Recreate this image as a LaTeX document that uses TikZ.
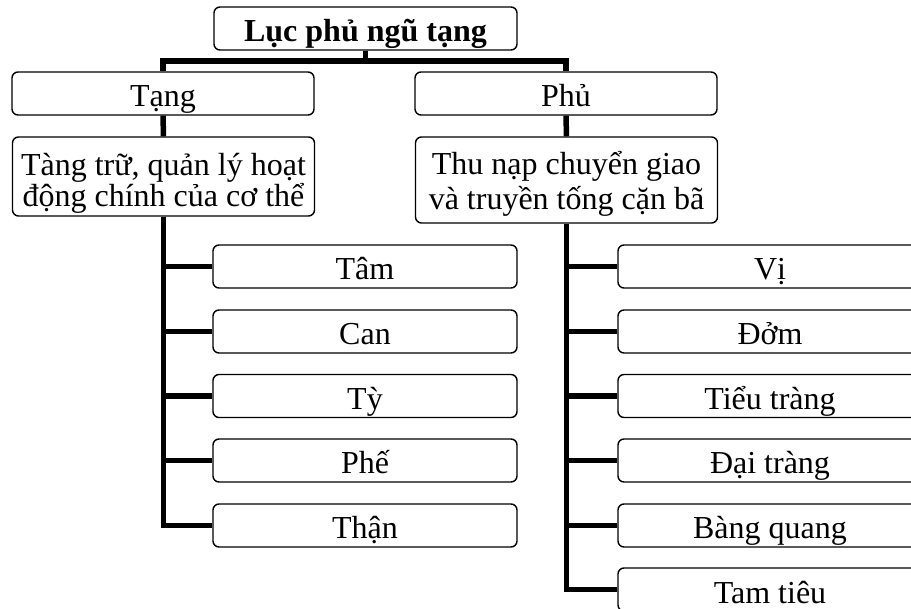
\documentclass[tikz,border=0pt]{standalone}
\usepackage{fontspec}
\setmainfont{Liberation Serif}
\begin{document}
\begin{tikzpicture}[x=1pt,y=-1pt,
  box/.style={draw, line width=1.4pt, rounded corners=6pt, inner sep=0pt,
    minimum height=43pt, text height=32pt, text depth=5pt,
    font=\fontsize{32}{35}\selectfont},
  w302/.style={minimum width=302pt},
  w304/.style={minimum width=304pt},
  conn/.style={line width=5.5pt}]
\useasboundingbox (0,0) rectangle (911,609);
\clip (0,0) rectangle (911,609);
\fill[white] (0,0) rectangle (911,609);
% top level
\node[box, minimum width=303pt, font=\fontsize{32}{35}\selectfont\bfseries] (top) at (365.5,28.5) {Lục phủ ngũ tạng};
\node[box, w302] (tang) at (163,93.5) {Tạng};
\node[box, w302] (phu) at (566,93.5) {Phủ};
% descriptions
\node[box, w302, minimum height=79pt, align=center, text height=66pt, text depth=5pt,
  font=\fontsize{32}{30}\selectfont] (ltxt) at (163.5,176.5)
  {Tàng trữ, quản lý hoạt\\động chính của cơ thể};
\node[box, w302, minimum height=86pt, align=center, text height=65pt, text depth=5pt,
  font=\fontsize{32}{35}\selectfont] (rtxt) at (566.5,180)
  {Thu nạp chuyển giao\\và truyền tống cặn bã};
% left children
\node[box, w304] (tam) at (365,266.5) {Tâm};
\node[box, w304] (can) at (365,331.5) {Can};
\node[box, w304] (ty) at (365,396) {Tỳ};
\node[box, w304] (phe) at (365,460.5) {Phế};
\node[box, w304] (than) at (365,525.5) {Thận};
% right children
\node[box, w304] (vi) at (770,266.5) {Vị};
\node[box, w304] (dom) at (770,331.5) {Đởm};
\node[box, w304] (tieu) at (770,396) {Tiểu tràng};
\node[box, w304] (dai) at (770,460.5) {Đại tràng};
\node[box, w304] (bang) at (770,525.5) {Bàng quang};
\node[box, w304] (tamt) at (770,589.5) {Tam tiêu};
% connectors
\draw[conn] (top.south) -- ++(0,10.5) -| (tang.north);
\draw[conn] (top.south) -- ++(0,10.5) -| (phu.north);
\draw[conn] (tang.south) -- (ltxt.north);
\draw[conn] (phu.south) -- (rtxt.north);
\draw[conn] (ltxt.south) |- (than.west);
\foreach \n in {tam,can,ty,phe}{
  \draw[conn] (ltxt.south |- \n.west) -- (\n.west);
}
\draw[conn] (rtxt.south) |- (tamt.west);
\foreach \n in {vi,dom,tieu,dai,bang}{
  \draw[conn] (rtxt.south |- \n.west) -- (\n.west);
}
\end{tikzpicture}
\end{document}
